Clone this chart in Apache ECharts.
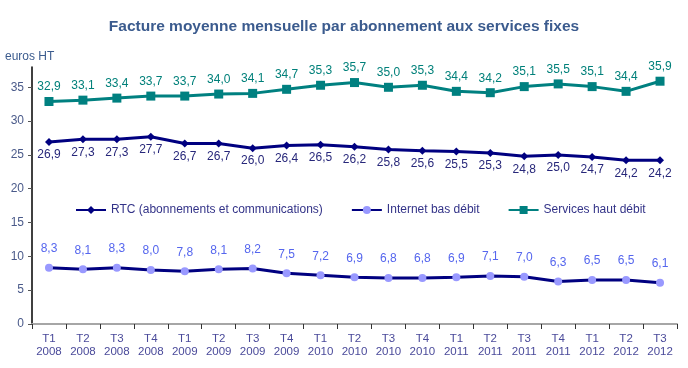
<!DOCTYPE html>
<html><head><meta charset="utf-8">
<script src="https://cdn.jsdelivr.net/npm/echarts@6/dist/echarts.min.js"></script>
<style>html,body{margin:0;padding:0;background:#fff}#c{width:688px;height:368px}</style>
</head><body><div id="c"></div>
<script>
var categories = ['T1\n2008','T2\n2008','T3\n2008','T4\n2008','T1\n2009','T2\n2009','T3\n2009','T4\n2009','T1\n2010','T2\n2010','T3\n2010','T4\n2010','T1\n2011','T2\n2011','T3\n2011','T4\n2011','T1\n2012','T2\n2012','T3\n2012'];
var rtc = [26.9,27.3,27.3,27.7,26.7,26.7,26.0,26.4,26.5,26.2,25.8,25.6,25.5,25.3,24.8,25.0,24.7,24.2,24.2];
var basDebit = [8.3,8.1,8.3,8.0,7.8,8.1,8.2,7.5,7.2,6.9,6.8,6.8,6.9,7.1,7.0,6.3,6.5,6.5,6.1];
var hautDebit = [32.9,33.1,33.4,33.7,33.7,34.0,34.1,34.7,35.3,35.7,35.0,35.3,34.4,34.2,35.1,35.5,35.1,34.4,35.9];
var yTicks = [0,5,10,15,20,25,30,35];

var fmt = function(p){ return p.value.toFixed(1).replace('.', ','); };
var font = 'Arial, "Liberation Sans", sans-serif';
var chart = echarts.init(document.getElementById('c'), null, {renderer:'canvas'});
chart.setOption({
  animation:false,
  title:{text:'Facture moyenne mensuelle par abonnement aux services fixes',left:'center',top:14,
    textStyle:{fontFamily:font,fontSize:15.5,fontWeight:'bold',color:'#3b5b8e'}},
  graphic:[{type:'text',left:5,top:51,style:{text:'euros HT',fontFamily:font,fontSize:12,fill:'#3b5b8e'}}],
  legend:{top:199,left:70,itemGap:28,itemWidth:30,itemHeight:10,
    textStyle:{fontFamily:font,fontSize:12,color:'#333388'},
    data:['RTC (abonnements et communications)','Internet bas débit','Services haut débit']},
  grid:{left:32,right:11,top:67,bottom:44},
  xAxis:{type:'category',data:categories,boundaryGap:true,
    axisLine:{lineStyle:{color:'#a6a6a6',width:2}},
    axisTick:{show:true,interval:0,length:5,lineStyle:{color:'#333'}},
    axisLabel:{interval:0,fontFamily:font,fontSize:11.5,color:'#4a4a9a',lineHeight:13,margin:8}},
  yAxis:{type:'value',min:0,max:38,interval:5,
    axisLine:{show:true,lineStyle:{color:'#000',width:1.5}},
    axisTick:{show:true,length:4,lineStyle:{color:'#555'},customValues:yTicks},
    axisLabel:{fontFamily:font,fontSize:12,color:'#4a5a8a',margin:8,customValues:yTicks},
    splitLine:{show:false}},
  series:[
    {name:'RTC (abonnements et communications)',type:'line',data:rtc,symbol:'diamond',symbolSize:8,
     lineStyle:{color:'#000080',width:3},itemStyle:{color:'#000080'},
     label:{show:true,position:'bottom',distance:3,formatter:fmt,fontFamily:font,fontSize:12,color:'#27277a'}},
    {name:'Internet bas débit',type:'line',data:basDebit,symbol:'circle',symbolSize:8,
     lineStyle:{color:'#000080',width:3},itemStyle:{color:'#9999ff'},
     label:{show:true,position:'top',distance:9,formatter:fmt,fontFamily:font,fontSize:12,color:'#5566ee'}},
    {name:'Services haut débit',type:'line',data:hautDebit,symbol:'rect',symbolSize:9,
     lineStyle:{color:'#008080',width:3},itemStyle:{color:'#008080'},
     label:{show:true,position:'top',distance:4,formatter:fmt,fontFamily:font,fontSize:12,color:'#00807a'}}
  ]
});
</script></body></html>
